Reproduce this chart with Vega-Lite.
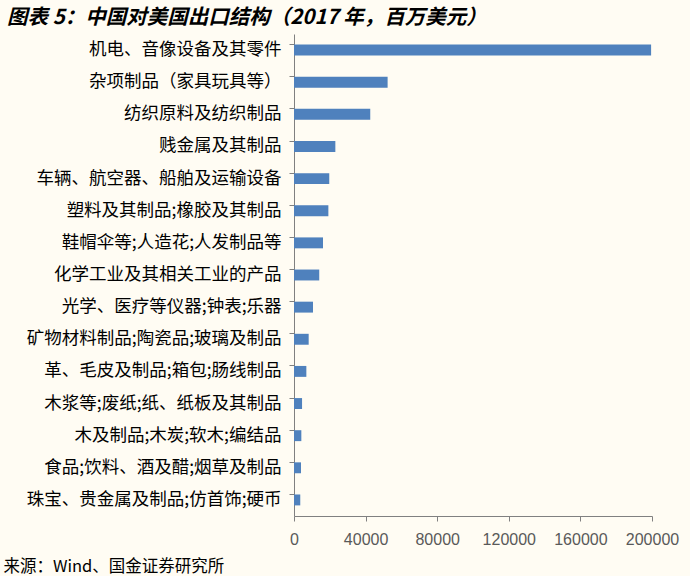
{
  "$schema": "https://vega.github.io/schema/vega-lite/v6.json",
  "autosize": {"type": "none"},
  "width": 358,
  "height": 482,
  "padding": {"left": 294, "top": 34, "right": 38, "bottom": 60},
  "background": "#FFFCF3",
  "title": {
    "text": "图表 5：中国对美国出口结构（2017 年，百万美元）",
    "anchor": "start",
    "frame": "group",
    "dx": -287,
    "offset": 6,
    "font": "Noto Sans CJK SC",
    "fontSize": 20.5,
    "fontWeight": "bold",
    "fontStyle": "italic",
    "color": "#000000"
  },
  "data": {
    "values": [
      {"category": "机电、音像设备及其零件", "value": 199500},
      {"category": "杂项制品（家具玩具等）", "value": 52300},
      {"category": "纺织原料及纺织制品", "value": 42600},
      {"category": "贱金属及其制品", "value": 23100},
      {"category": "车辆、航空器、船舶及运输设备", "value": 19700},
      {"category": "塑料及其制品;橡胶及其制品", "value": 19200},
      {"category": "鞋帽伞等;人造花;人发制品等", "value": 16200},
      {"category": "化学工业及其相关工业的产品", "value": 14100},
      {"category": "光学、医疗等仪器;钟表;乐器", "value": 10600},
      {"category": "矿物材料制品;陶瓷品;玻璃及制品", "value": 8200},
      {"category": "革、毛皮及制品;箱包;肠线制品", "value": 6900},
      {"category": "木浆等;废纸;纸、纸板及其制品", "value": 4500},
      {"category": "木及制品;木炭;软木;编结品", "value": 4100},
      {"category": "食品;饮料、酒及醋;烟草及制品", "value": 3900},
      {"category": "珠宝、贵金属及制品;仿首饰;硬币", "value": 3500}
    ]
  },
  "mark": {"type": "bar", "color": "#4F81BD"},
  "encoding": {
    "y": {
      "field": "category",
      "type": "nominal",
      "sort": null,
      "scale": {"paddingInner": 0.66, "paddingOuter": 0.33},
      "axis": {
        "title": null,
        "bandPosition": 0,
        "domainColor": "#808080",
        "tickColor": "#808080",
        "tickSize": 5,
        "labelPadding": 8,
        "labelFont": "Noto Sans CJK SC",
        "labelFontSize": 17.5,
        "labelColor": "#000000",
        "labelLimit": 400
      }
    },
    "x": {
      "field": "value",
      "type": "quantitative",
      "scale": {"domain": [0, 200000], "nice": false},
      "axis": {
        "values": [0, 40000, 80000, 120000, 160000, 200000],
        "format": "d",
        "grid": false,
        "domainColor": "#808080",
        "tickColor": "#808080",
        "tickSize": 5,
        "labelPadding": 10,
        "labelFont": "Liberation Sans",
        "labelFontSize": 16,
        "labelColor": "#595959",
        "labelFlush": false,
        "labelOverlap": false,
        "title": "来源：Wind、国金证券研究所",
        "titleFont": "Noto Sans CJK SC",
        "titleFontSize": 16.5,
        "titleFontWeight": "normal",
        "titleColor": "#000000",
        "titleAlign": "left",
        "titleBaseline": "middle",
        "titleX": -291,
        "titleY": 50
      }
    }
  },
  "config": {"view": {"stroke": null}}
}
